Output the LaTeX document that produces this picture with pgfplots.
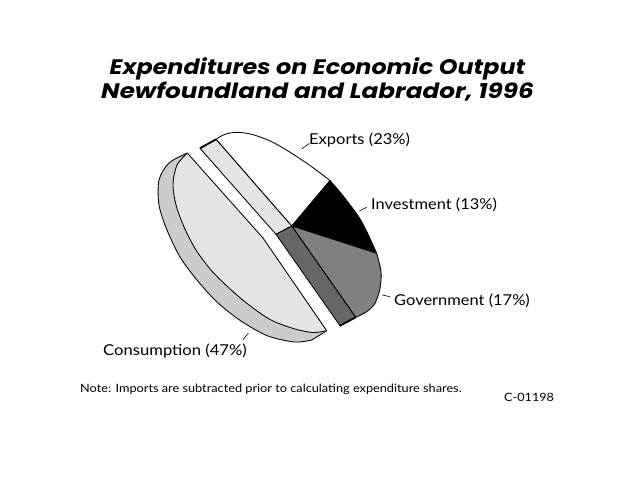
\documentclass[border=0pt]{standalone}
\usepackage{pgfplots}
\pgfplotsset{compat=1.18}
\usepackage{fontspec}
\setmainfont{Lato}
\newfontfamily\titlefont{Poppins}
\definecolor{lite}{HTML}{E4E4E4}
\definecolor{sidec}{HTML}{CCCCCC}
\definecolor{govc}{HTML}{808080}
\definecolor{darkc}{HTML}{666666}
\newcommand{\lab}[2]{\scalebox{#1}[1]{\fontsize{15}{18}\selectfont #2}}
\newcommand{\smalllab}[2]{\scalebox{#1}[1]{\fontsize{11.5}{14}\selectfont #2}}
\newcommand{\ttl}[2]{\scalebox{#1}[1]{\titlefont\bfseries\itshape\fontsize{21}{24}\selectfont #2}}
\begin{document}
\begin{tikzpicture}
\begin{axis}[scale only axis,width=640pt,height=480pt,xmin=0,xmax=640,ymin=0,ymax=480,y dir=reverse,
  hide axis,clip=false,
  every axis plot/.append style={no markers,line width=0.85pt,line join=round}]
\addplot[draw=none] coordinates {(0,0) (640,480)};
% Consumption side
\addplot[smooth,fill=sidec,draw=sidec,line width=0.3pt] coordinates {(187.3,153) (169,163) (159,180) (159,205) (167,230) (180,257) (197,280) (217,302) (241,321) (268,336) (295,342) (311.7,340)} --cycle;
\addplot[fill=sidec,draw=sidec,line width=0.3pt] coordinates {(187.3,153) (311.7,340) (326.7,330.7)} --cycle;
\addplot[smooth,black] coordinates {(187.3,153) (169,163) (159,180) (159,205) (167,230) (180,257) (197,280) (217,302) (241,321) (268,336) (295,342) (311.7,340)};
\addplot[black] coordinates {(311.7,340) (326.7,330.7)};
% Consumption top
\addplot[smooth,fill=lite,draw=lite,line width=0.3pt] coordinates {(187.3,153) (177,165) (173,184) (176,205) (184.5,228) (196,250) (211,270) (229,288) (249,305) (271,320) (295,329) (313,332.5) (326.7,330.7)} --cycle;
\addplot[fill=lite,draw=lite,line width=0.3pt] coordinates {(187.3,153) (263,238) (326.7,330.7)} --cycle;
\addplot[smooth,black] coordinates {(187.3,153) (177,165) (173,184) (176,205) (184.5,228) (196,250) (211,270) (229,288) (249,305) (271,320) (295,329) (313,332.5) (326.7,330.7)};
\addplot[black] coordinates {(187.3,153) (263,238) (326.7,330.7)};
% Exports
\addplot[fill=white,draw=white,line width=0.3pt] coordinates {(216,139.3) (291.7,226) (330,180.5)} --cycle;
\addplot[smooth,fill=white,draw=white,line width=0.3pt] coordinates {(216,139.3) (225,134.3) (236.7,132.3) (251.7,134.3) (271.7,141.7) (291.7,153.3) (311.7,166.7) (330,180.5)} --cycle;
\addplot[smooth,black] coordinates {(216,139.3) (225,134.3) (236.7,132.3) (251.7,134.3) (271.7,141.7) (291.7,153.3) (311.7,166.7) (330,180.5)};
\addplot[black] coordinates {(216,139.3) (291.7,226) (330,180.5)};
% strip under Exports
\addplot[fill=lite,draw=black] coordinates {(200,148.3) (216,139.3) (291.7,226) (276,234.3)} --cycle;
\addplot[black,line width=1.8pt] coordinates {(200,148.3) (216,139.3)};
% Investment
\addplot[fill=black,draw=black,line width=0.3pt] coordinates {(291.7,226) (330,180.5) (376.7,253.3)} --cycle;
\addplot[smooth,fill=black,draw=black] coordinates {(330,180.5) (345,198.3) (361.7,221.7) (376.7,253.3)} --cycle;
% Government
\addplot[fill=govc,draw=govc,line width=0.3pt] coordinates {(291.7,226) (376.7,253.3) (355.7,317.3)} --cycle;
\addplot[smooth,fill=govc,draw=govc,line width=0.3pt] coordinates {(376.7,253.3) (381,271.7) (380,288.3) (375,303.3) (366.7,311.7) (355.7,317.3)} --cycle;
\addplot[smooth,black] coordinates {(376.7,253.3) (381,271.7) (380,288.3) (375,303.3) (366.7,311.7) (355.7,317.3)};
\addplot[black] coordinates {(376.7,253.3) (291.7,226) (355.7,317.3)};
% dark strip
\addplot[fill=darkc,draw=black] coordinates {(276,234.3) (291.7,226) (355.7,317.3) (340,325.7)} --cycle;
\addplot[black,line width=1.8pt] coordinates {(340,325.7) (355.7,317.3)};
% leaders
\addplot[black,line width=0.6pt] coordinates {(301.7,149) (309.3,143.3)};
\addplot[black,line width=0.6pt] coordinates {(359.3,211) (366.7,207.3)};
\addplot[black,line width=0.6pt] coordinates {(382.3,295) (390,296.7)};
\addplot[black,line width=0.6pt] coordinates {(242.7,340) (248.3,333.3)};
% text
\node[anchor=base,inner sep=0] at (axis cs:317.5,74) {\ttl{1.135}{Expenditures on Economic Output}};
\node[anchor=base,inner sep=0] at (axis cs:317.5,98) {\ttl{1.175}{Newfoundland and Labrador, 1996}};
\node[anchor=base west,inner sep=0] at (axis cs:309,144) {\lab{1.1}{Exports (23\%)}};
\node[anchor=base west,inner sep=0] at (axis cs:371,209) {\lab{1.095}{Investment (13\%)}};
\node[anchor=base west,inner sep=0] at (axis cs:394,305) {\lab{1.097}{Government (17\%)}};
\node[anchor=base west,inner sep=0] at (axis cs:103,355) {\lab{1.108}{Consumption (47\%)}};
\node[anchor=base west,inner sep=0] at (axis cs:80,392) {\smalllab{1.107}{Note: Imports are subtracted prior to calculating expenditure shares.}};
\node[anchor=base west,inner sep=0] at (axis cs:504,401) {\smalllab{1.1}{C-01198}};
\end{axis}
\end{tikzpicture}
\end{document}
